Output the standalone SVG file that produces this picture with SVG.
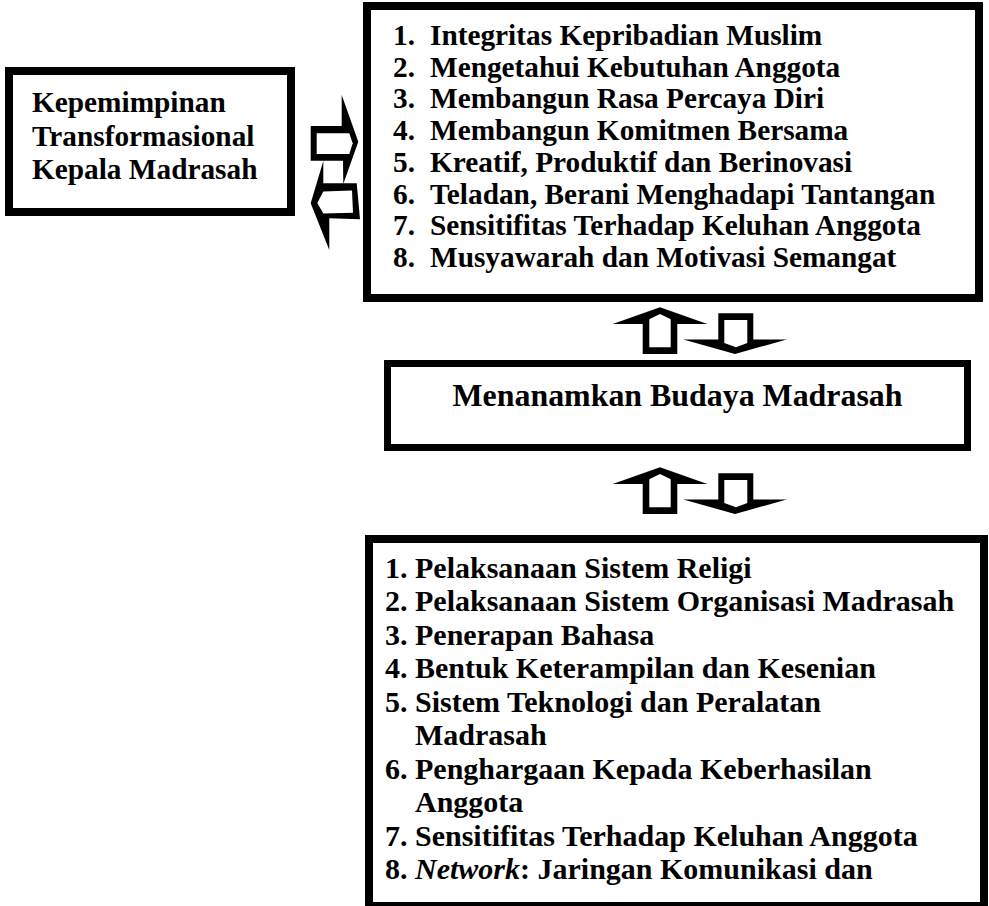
<svg xmlns="http://www.w3.org/2000/svg" width="989" height="906" viewBox="0 0 989 906">
<style>
.box{fill:#fff;stroke:#000;stroke-width:8}
.t{font-family:"Liberation Serif","Times New Roman",serif;font-weight:bold;font-size:29.3px;fill:#000}
.tb{font-family:"Liberation Serif","Times New Roman",serif;font-weight:bold;font-size:30px;fill:#000}
.ar{fill:#000}
.hole{fill:#fff}
</style>
<defs>
<g id="pair">
<polygon class="ar" points="612.7,324 660,307.3 707.3,324 677.3,324 677.3,354 642.7,354 642.7,324"/>
<polygon class="hole" points="649.3,319.3 660,314 670.7,319.3 670.7,347.3 649.3,347.3"/>
<polygon class="ar" points="718.3,313.3 753.3,313.3 753.3,339.5 786.7,339.5 735,354 683.3,339.5 718.3,339.5"/>
<polygon class="hole" points="724.3,320 747.3,320 747.3,343 736,347.3 724.3,343"/>
</g>
</defs>
<rect width="989" height="906" fill="#fff"/>
<g id="node-leader">
<rect class="box" x="9" y="71" width="282" height="141"/>
<text class="t" x="32" y="112">Kepemimpinan</text>
<text class="t" x="32" y="145.5">Transformasional</text>
<text class="t" x="32" y="179">Kepala Madrasah</text>
</g>
<g id="node-traits">
<rect class="box" x="367" y="6" width="612" height="292"/>
<text class="t" y="45"><tspan x="393">1.</tspan><tspan x="430">Integritas Kepribadian Muslim</tspan></text>
<text class="t" y="76.7"><tspan x="393">2.</tspan><tspan x="430">Mengetahui Kebutuhan Anggota</tspan></text>
<text class="t" y="108.4"><tspan x="393">3.</tspan><tspan x="430">Membangun Rasa Percaya Diri</tspan></text>
<text class="t" y="140.1"><tspan x="393">4.</tspan><tspan x="430">Membangun Komitmen Bersama</tspan></text>
<text class="t" y="171.8"><tspan x="393">5.</tspan><tspan x="430">Kreatif, Produktif dan Berinovasi</tspan></text>
<text class="t" y="203.5"><tspan x="393">6.</tspan><tspan x="430">Teladan, Berani Menghadapi Tantangan</tspan></text>
<text class="t" y="235.2"><tspan x="393">7.</tspan><tspan x="430">Sensitifitas Terhadap Keluhan Anggota</tspan></text>
<text class="t" y="266.9"><tspan x="393">8.</tspan><tspan x="430">Musyawarah dan Motivasi Semangat</tspan></text>
</g>
<g id="node-culture">
<rect class="box" x="387.5" y="363.5" width="580" height="84" style="stroke-width:7"/>
<text class="t" x="677.5" y="406" text-anchor="middle" textLength="450" lengthAdjust="spacingAndGlyphs" style="font-size:31px">Menanamkan Budaya Madrasah</text>
</g>
<g id="node-practices">
<rect class="box" x="369" y="539" width="615" height="367"/>
<text class="tb" y="577.5"><tspan x="385">1.</tspan><tspan x="415">Pelaksanaan Sistem Religi</tspan></text>
<text class="tb" y="611"><tspan x="385">2.</tspan><tspan x="415">Pelaksanaan Sistem Organisasi Madrasah</tspan></text>
<text class="tb" y="644.5"><tspan x="385">3.</tspan><tspan x="415">Penerapan Bahasa</tspan></text>
<text class="tb" y="678"><tspan x="385">4.</tspan><tspan x="415">Bentuk Keterampilan dan Kesenian</tspan></text>
<text class="tb" y="711.5"><tspan x="385">5.</tspan><tspan x="415">Sistem Teknologi dan Peralatan</tspan></text>
<text class="tb" x="415" y="745">Madrasah</text>
<text class="tb" y="778.5"><tspan x="385">6.</tspan><tspan x="415">Penghargaan Kepada Keberhasilan</tspan></text>
<text class="tb" x="415" y="812">Anggota</text>
<text class="tb" y="845.5"><tspan x="385">7.</tspan><tspan x="415">Sensitifitas Terhadap Keluhan Anggota</tspan></text>
<text class="tb" y="879"><tspan x="385">8.</tspan><tspan x="415" font-style="italic">Network</tspan><tspan>: Jaringan Komunikasi dan</tspan></text>
</g>
<g id="connectors">
<polygon class="ar" points="310.7,126 341.7,126 341.7,95 358.3,141.7 343.3,184 343,160.7 310.7,160.7"/>
<polygon class="hole" points="316.7,133.3 349.3,133.3 352.7,143.3 349.3,154 316.7,154"/>
<polygon class="ar" points="356.7,183.3 360,219.3 329.3,218.3 329.3,250 310.7,203.3 323.3,161 323.3,183.3"/>
<polygon class="hole" points="317.3,203 323.3,191.5 352,190.5 353,212.7 323.3,213.5"/>
<use href="#pair"/>
<use href="#pair" transform="translate(0,160)"/>
</g>
</svg>
